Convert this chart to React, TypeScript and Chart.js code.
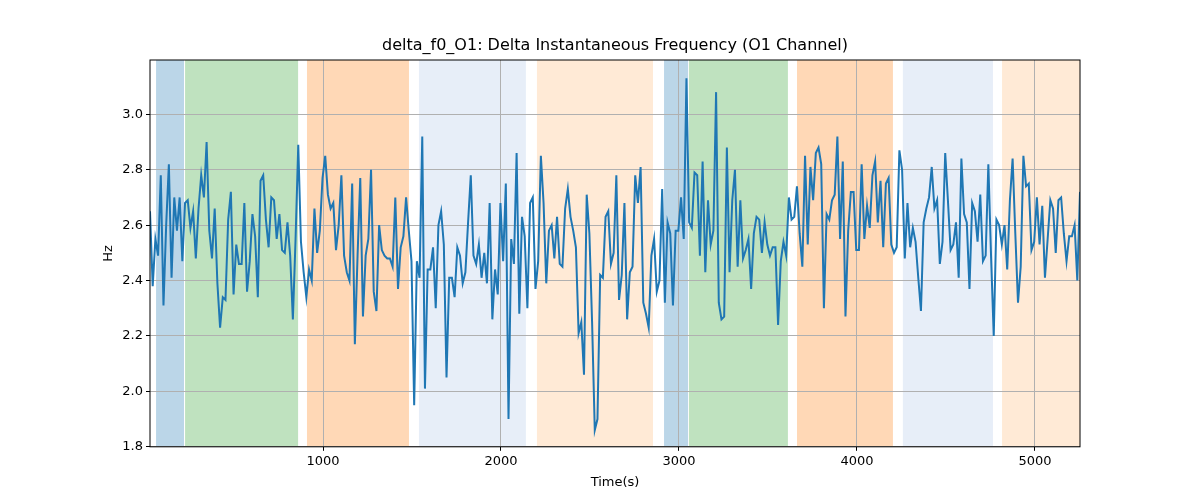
import React, { useEffect, useRef } from "react";
import { Chart, registerables } from "chart.js";
Chart.register(...registerables);

const T_START = 28;
const T_END = 5253;
const TITLE = "delta_f0_O1: Delta Instantaneous Frequency (O1 Channel)";
const values: number[] = [
2.65,2.38,2.55,2.49,2.78,2.31,2.60,2.82,2.41,2.70,2.58,2.70,2.47,2.68,2.69,2.59,2.65,2.48,2.66,2.78,2.70,2.90,2.58,2.48,2.66,2.39,2.23,2.34,2.33,2.62,2.72,2.35,2.53,2.46,2.46,2.68,2.36,2.47,2.64,2.56,2.34,2.76,2.78,2.62,2.52,2.70,2.69,2.55,2.64,2.51,2.50,2.61,2.49,2.26,2.55,2.89,
2.54,2.43,2.34,2.44,2.40,2.66,2.50,2.58,2.77,2.85,2.71,2.66,2.68,2.51,2.60,2.78,2.49,2.43,2.40,2.75,2.17,2.49,2.77,2.27,2.49,2.55,2.80,2.36,2.29,2.60,2.51,2.49,2.48,2.48,2.45,2.70,2.37,2.52,2.56,2.70,2.58,2.47,1.95,
2.47,2.41,2.92,2.01,2.44,2.44,2.52,2.30,2.60,2.65,2.53,2.05,2.41,2.41,2.34,2.52,2.49,2.39,2.43,2.61,2.78,2.49,2.46,2.53,2.41,2.50,2.39,2.68,2.26,2.44,2.35,2.68,2.47,2.75,1.90,
2.55,2.46,2.86,2.28,2.63,2.56,2.30,2.68,2.70,2.37,2.47,2.85,2.68,2.39,2.58,2.60,2.48,2.63,2.46,2.45,2.66,2.73,2.63,2.58,2.52,2.21,2.25,2.06,2.71,2.57,2.25,1.86,1.90,2.42,2.41,2.63,2.65,2.46,2.50,2.78,
2.33,2.42,2.68,2.26,2.43,2.45,2.78,2.68,2.81,2.32,2.28,2.23,2.49,2.55,2.36,2.40,2.73,2.32,2.61,2.57,2.31,2.58,2.58,2.70,2.55,3.13,2.61,2.59,2.79,2.78,2.49,2.83,
2.43,2.69,2.53,2.58,3.08,2.32,2.26,2.27,2.88,2.43,2.69,2.80,2.45,2.69,2.48,2.51,2.55,2.37,2.57,2.63,2.62,2.50,2.61,2.53,2.49,2.52,2.52,2.24,2.47,2.54,2.49,2.70,2.62,2.63,2.74,2.57,2.45,2.85,2.53,2.81,2.69,2.86,2.88,2.82,2.30,
2.64,2.62,2.69,2.71,2.92,2.55,2.83,2.27,2.58,2.72,2.72,2.51,2.51,2.82,2.55,2.67,2.59,2.78,2.83,2.61,2.76,2.52,2.75,2.77,2.53,2.50,2.52,2.87,2.80,2.48,2.68,2.52,2.59,2.54,2.41,2.29,2.61,2.66,2.70,2.81,2.66,2.69,2.46,2.54,2.86,2.69,
2.51,2.53,2.61,2.41,2.84,2.64,2.61,2.37,2.68,2.65,2.54,2.71,2.47,2.49,2.82,2.49,2.20,2.62,2.60,2.53,2.60,2.44,2.69,2.84,2.57,2.32,2.45,2.85,2.74,2.75,2.51,2.54,2.70,2.53,2.67,2.41,2.55,2.69,2.66,2.50,2.69,2.70,2.57,2.47,2.56,2.56,2.60,2.40,2.72,
];
const times: number[] = values.map((_, i) => T_START + (i * (T_END - T_START)) / (values.length - 1));

const spanStarts = [62, 225, 910, 1539, 2202, 2916, 3056, 3663, 4258, 4815];
const spanEnds = [219, 860, 1483, 2140, 2854, 3051, 3612, 4202, 4764, 5253];
const spanColors = [
  "rgba(31,119,180,0.3)", "rgba(44,160,44,0.3)", "rgba(255,127,14,0.3)",
  "rgba(174,199,232,0.3)", "rgba(255,187,120,0.3)",
  "rgba(31,119,180,0.3)", "rgba(44,160,44,0.3)", "rgba(255,127,14,0.3)",
  "rgba(174,199,232,0.3)", "rgba(255,187,120,0.3)",
];

const spanPlugin = {
  id: "spans",
  beforeDraw(chart: any) {
    const { ctx, chartArea, scales } = chart;
    ctx.save();
    ctx.beginPath();
    ctx.rect(chartArea.left, chartArea.top, chartArea.right - chartArea.left, chartArea.bottom - chartArea.top);
    ctx.clip();
    spanStarts.forEach((s, i) => {
      const x0 = scales.x.getPixelForValue(s);
      const x1 = scales.x.getPixelForValue(spanEnds[i]);
      ctx.fillStyle = spanColors[i];
      ctx.fillRect(x0, chartArea.top, x1 - x0, chartArea.bottom - chartArea.top);
    });
    ctx.restore();
  },
  afterDraw(chart: any) {
    const { ctx, chartArea } = chart;
    ctx.save();
    ctx.strokeStyle = "#000";
    ctx.lineWidth = 1;
    ctx.strokeRect(chartArea.left, chartArea.top, chartArea.right - chartArea.left, chartArea.bottom - chartArea.top);
    ctx.fillStyle = "#000";
    ctx.font = "16px 'DejaVu Sans'";
    ctx.textAlign = "center";
    ctx.textBaseline = "middle";
    ctx.fillText(TITLE, (chartArea.left + chartArea.right) / 2, 46);
    ctx.restore();
  },
};

export default function App() {
  const ref = useRef<HTMLCanvasElement>(null);
  useEffect(() => {
    const chart = new Chart(ref.current!, {
      type: "line",
      data: {
        datasets: [{
          data: times.map((t, i) => ({ x: t, y: values[i] })),
          borderColor: "#1f77b4",
          borderWidth: 2,
          pointRadius: 0,
          tension: 0,
        }],
      },
      options: {
        animation: false,
        responsive: false,
        devicePixelRatio: 1,
        layout: { padding: { left: 97, right: 120, top: 60, bottom: 10 } },
        plugins: {
          legend: { display: false },
          tooltip: { enabled: false },
          title: { display: false },
        },
        scales: {
          x: {
            type: "linear",
            min: T_START,
            max: T_END,
            afterBuildTicks: (s: any) => { s.ticks = [1000, 2000, 3000, 4000, 5000].map((v) => ({ value: v })); },
            grid: { color: "#b0b0b0", drawTicks: true, tickLength: 4, tickColor: "#000" },
            border: { display: false },
            ticks: { color: "#000", font: { family: "DejaVu Sans", size: 13 }, padding: 3, maxRotation: 0, callback: (v: any) => String(v) },
            title: { display: true, text: "Time(s)", color: "#000", font: { family: "DejaVu Sans", size: 13 }, padding: { top: 2, bottom: 0 } },
          },
          y: {
            min: 1.8,
            max: 3.196,
            afterBuildTicks: (s: any) => { s.ticks = [1.8, 2.0, 2.2, 2.4, 2.6, 2.8, 3.0].map((v) => ({ value: v })); },
            afterFit: (s: any) => { s.width = 53; },
            grid: { color: "#b0b0b0", tickLength: 4, tickColor: "#000" },
            border: { display: false },
            ticks: { color: "#000", font: { family: "DejaVu Sans", size: 13 }, padding: 3, callback: (v: any) => Number(v).toFixed(1) },
            title: { display: true, text: "Hz", color: "#000", font: { family: "DejaVu Sans", size: 13 }, padding: { bottom: 4 } },
          },
        },
      },
      plugins: [spanPlugin],
    });
    return () => chart.destroy();
  }, []);
  return (
    <div style={{ position: "fixed", left: 0, top: 0, width: 1200, height: 500, background: "#fff" }}>
      <canvas ref={ref} width={1200} height={500} />
    </div>
  );
}
